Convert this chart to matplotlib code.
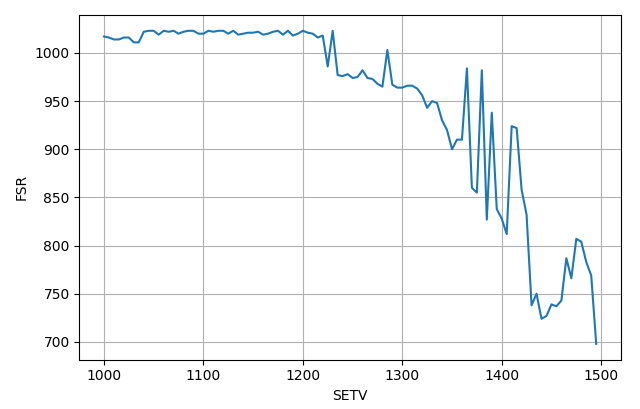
import matplotlib
matplotlib.use("Agg")
import matplotlib.pyplot as plt

setv = list(range(1000, 1500, 5))
fsr = [
    1017, 1016, 1014, 1014, 1016, 1016, 1011, 1011, 1022, 1023,
    1023, 1019, 1023, 1022, 1023, 1020, 1022, 1023, 1023, 1020,
    1020, 1023, 1022, 1023, 1023, 1020, 1023, 1019, 1020, 1021,
    1021, 1022, 1019, 1020, 1022, 1023, 1019, 1023, 1018, 1020,
    1023, 1021, 1020, 1016, 1018, 986, 1023, 977, 976, 978,
    974, 975, 982, 974, 973, 968, 965, 1003, 967, 964,
    964, 966, 966, 963, 956, 943, 950, 948, 930, 920,
    900, 910, 910, 984, 860, 855, 982, 827, 938, 838,
    828, 812, 924, 922, 858, 832, 738, 750, 724, 727,
    739, 737, 743, 787, 766, 807, 804, 783, 769, 698,
]

fig, ax = plt.subplots(figsize=(6.4, 4.09), dpi=100)
ax.plot(setv, fsr)
ax.set_xlabel("SETV")
ax.set_ylabel("FSR")
ax.grid(True)
fig.subplots_adjust(left=0.124, right=0.970, bottom=0.121, top=0.963)
fig.savefig("out.png")
